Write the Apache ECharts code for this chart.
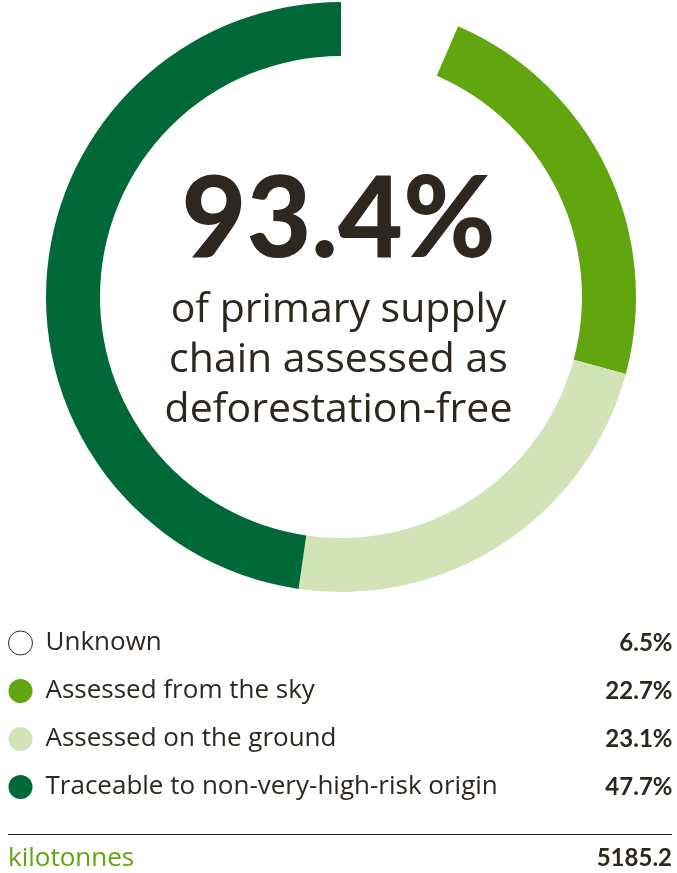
<!DOCTYPE html>
<html lang="en">
<head>
    <meta charset="UTF-8">
    <title>Deforestation-free supply chain</title>
    <script src="https://cdn.jsdelivr.net/npm/echarts@6/dist/echarts.min.js"></script>
    <style>
        html, body { margin: 0; padding: 0; background: #fff; }
        #main { width: 677px; height: 873px; }
    </style>
</head>
<body>
	<div id="main"></div>
	<script>
	    // data
	    var categories = ['Unknown', 'Assessed from the sky', 'Assessed on the ground', 'Traceable to non-very-high-risk origin'];
	    var shares = [6.5, 22.7, 23.1, 47.7];
	    var colors = ['#ffffff', '#62a60f', '#d2e4b7', '#006937'];
	    var headline = '93.4%';
	    var subtitle = 'of primary supply\nchain assessed as\ndeforestation-free';
	    var totalLabel = 'kilotonnes';
	    var totalValue = '5185.2';

	    var ink = '#2e2720';
	    var font = 'Open Sans';
	    var boldFont = 'Lato';

	    var pieData = categories.map(function (c, i) {
	        return { name: c, value: shares[i], itemStyle: { color: colors[i] } };
	    });

	    var legendData = categories.map(function (c, i) {
	        var d = { name: c, icon: 'circle', itemStyle: { color: colors[i] } };
	        if (i === 0) d.itemStyle = { color: '#fff', borderColor: ink, borderWidth: 1 };
	        return d;
	    });

	    var myChart = echarts.init(document.getElementById('main'));
	    var option = {
	        animation: false,
	        textStyle: { fontFamily: font },
	        legend: {
	            orient: 'vertical',
	            left: 8,
	            top: 630,
	            padding: 0,
	            itemWidth: 24,
	            itemHeight: 24,
	            itemGap: 22,
	            selectedMode: false,
	            data: legendData,
	            formatter: function (name) {
	                var i = categories.indexOf(name);
	                return '{n|' + name + '}{v|' + shares[i].toFixed(1) + '%}';
	            },
	            textStyle: {
	                rich: {
	                    n: { fontFamily: font, fontSize: 26, lineHeight: 24, color: ink, width: 527, padding: [0, 0, 0, 8] },
	                    v: { fontFamily: boldFont, fontSize: 24, lineHeight: 24, fontWeight: 'bold', color: ink, width: 100, align: 'right' }
	                }
	            }
	        },
	        graphic: [
	            {
	                type: 'text', left: 'center', top: 165,
	                style: { text: headline, fontFamily: boldFont, fontSize: 112, fontWeight: 900, fill: ink, textAlign: 'center' }
	            },
	            {
	                type: 'text', left: 'center', top: 285,
	                style: { text: subtitle, fontFamily: font, fontSize: 41, lineHeight: 50, fill: ink, textAlign: 'center' }
	            },
	            {
	                type: 'line', shape: { x1: 8, y1: 834.5, x2: 672, y2: 834.5 },
	                style: { stroke: ink, lineWidth: 1 }
	            },
	            {
	                type: 'text', left: 8, top: 846,
	                style: { text: totalLabel, fontFamily: font, fontSize: 26, fill: '#62a60f' }
	            },
	            {
	                type: 'text', right: 5, top: 846,
	                style: { text: totalValue, fontFamily: boldFont, fontSize: 24, fontWeight: 'bold', fill: ink, textAlign: 'right' }
	            }
	        ],
	        series: [
	            {
	                type: 'pie',
	                center: [341, 297],
	                radius: [241, 295],
	                startAngle: 90,
	                clockwise: true,
	                label: { show: false },
	                labelLine: { show: false },
	                emphasis: { disabled: true },
	                data: pieData
	            }
	        ]
	    };
	    myChart.setOption(option);
	</script>
</body>
</html>
